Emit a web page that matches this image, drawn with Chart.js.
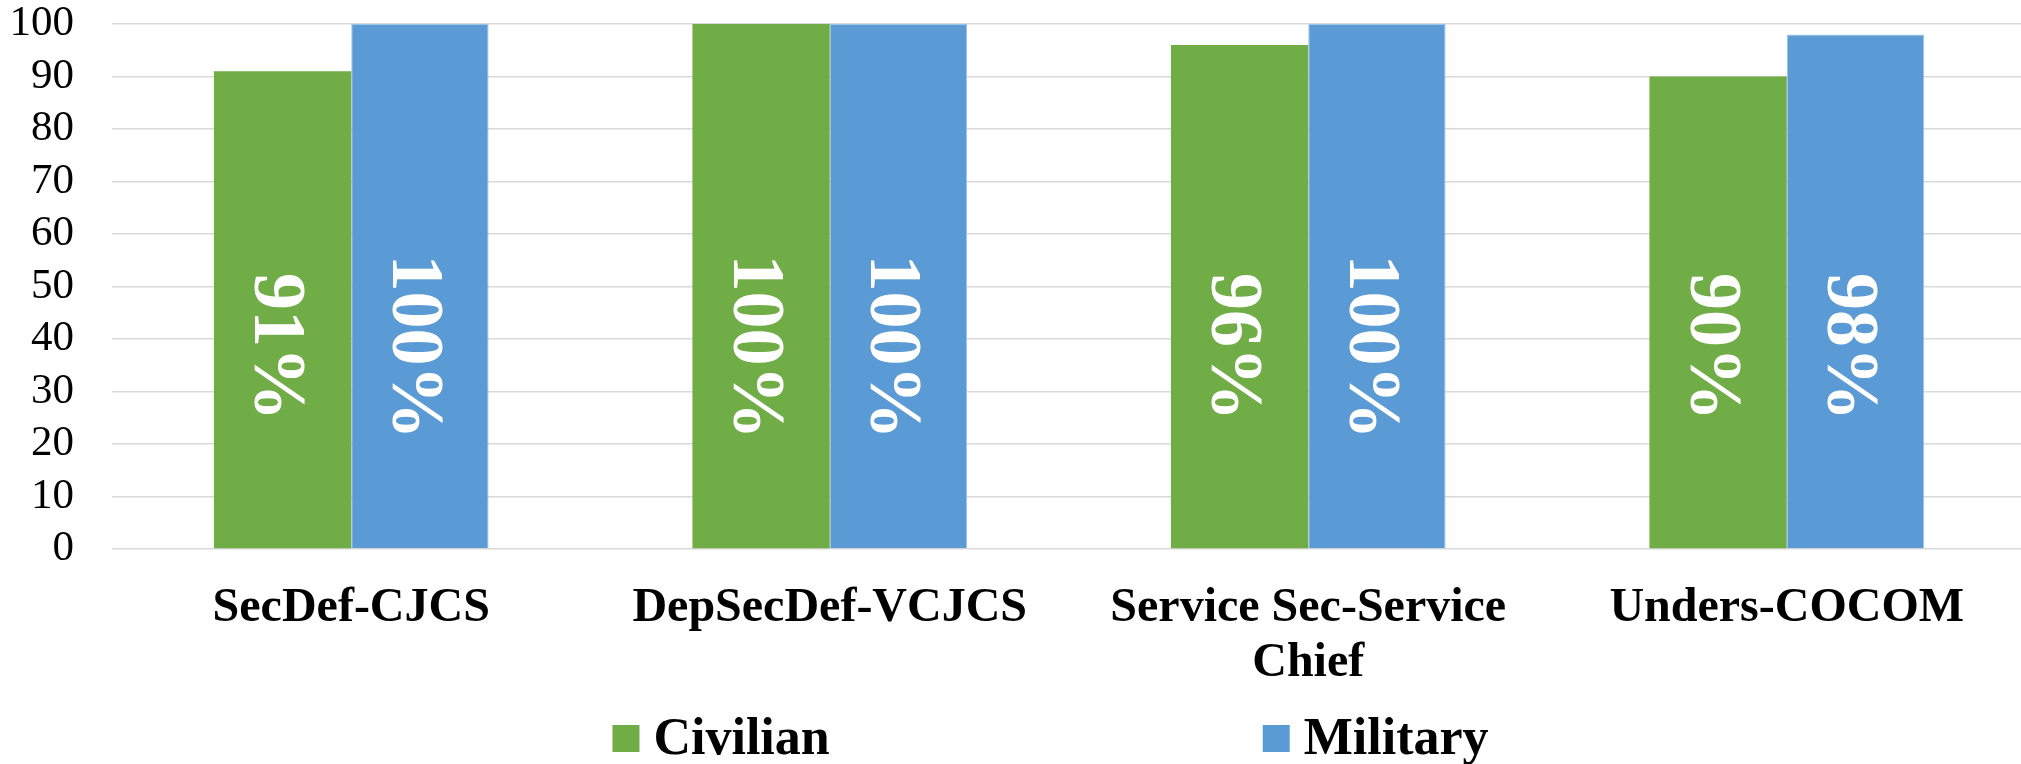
<!DOCTYPE html>
<html>
<head>
<meta charset="utf-8">
<script src="https://cdn.jsdelivr.net/npm/chart.js@4.4.1/dist/chart.umd.min.js"></script>
<style>
  html, body { margin: 0; padding: 0; background: #ffffff; overflow: hidden; }
  #wrap { position: relative; width: 2026px; height: 764px; }
</style>
</head>
<body>
<div id="wrap"><canvas id="chart"></canvas></div>
<script>
// ---- data ----
const categories = ['SecDef-CJCS', 'DepSecDef-VCJCS', ['Service Sec-Service', 'Chief'], 'Unders-COCOM'];
const seriesNames = ['Civilian', 'Military'];
const civilianValues = [91, 100, 96, 90];
const militaryValues = [100, 100, 100, 98];
const yTickValues = [0, 10, 20, 30, 40, 50, 60, 70, 80, 90, 100];

const SERIF = "'Liberation Serif', 'Times New Roman', serif";

// rotated value labels inside the bars
const barValueLabels = {
  id: 'barValueLabels',
  afterDatasetsDraw(chart, args, opts) {
    const ctx = chart.ctx;
    const yScale = chart.scales.y;
    ctx.save();
    ctx.font = opts.font;
    ctx.fillStyle = opts.color;
    ctx.textAlign = 'center';
    ctx.textBaseline = 'middle';
    chart.data.datasets.forEach((ds, di) => {
      const meta = chart.getDatasetMeta(di);
      meta.data.forEach((bar, i) => {
        const cy = yScale.getPixelForValue(opts.anchorValue);
        ctx.save();
        ctx.translate(bar.x + opts.offsetX, cy);
        ctx.rotate(Math.PI / 2);
        ctx.fillText(ds.data[i] + '%', 0, 0);
        ctx.restore();
      });
    });
    ctx.restore();
  }
};

// wide-spaced legend drawn below the axis labels from dataset labels/colours
const wideLegend = {
  id: 'wideLegend',
  afterDraw(chart, args, opts) {
    const ctx = chart.ctx;
    const ca = chart.chartArea;
    ctx.save();
    ctx.font = opts.font;
    ctx.textBaseline = 'alphabetic';
    ctx.textAlign = 'left';
    const items = chart.data.datasets.map(ds => ({
      text: ds.label, color: ds.backgroundColor, w: ctx.measureText(ds.label).width
    }));
    const widths = items.map(it => opts.box + opts.gap + it.w);
    const total = widths.reduce((a, b) => a + b, 0) + opts.spacing * (items.length - 1);
    let x = (ca.left + ca.right) / 2 - total / 2 + opts.offsetX;
    const yBox = chart.height - opts.bottom - opts.box;
    items.forEach((it, i) => {
      ctx.fillStyle = it.color;
      ctx.fillRect(x, yBox, opts.box, opts.box);
      ctx.fillStyle = opts.color;
      ctx.fillText(it.text, x + opts.box + opts.gap, yBox + opts.box + opts.baselineShift);
      x += widths[i] + opts.spacing;
    });
    ctx.restore();
  }
};

new Chart(document.getElementById('chart'), {
  type: 'bar',
  data: {
    labels: categories,
    datasets: [
      {
        label: seriesNames[0],
        data: civilianValues,
        backgroundColor: '#70AD47',
        borderWidth: 0
      },
      {
        label: seriesNames[1],
        data: militaryValues,
        backgroundColor: '#5B9BD5',
        borderColor: '#9DC3E6',
        borderWidth: { left: 1, right: 1, top: 1, bottom: 0 },
        borderSkipped: 'bottom'
      }
    ]
  },
  options: {
    responsive: true,
    maintainAspectRatio: false,
    animation: false,
    datasets: { bar: { barPercentage: 1.0, categoryPercentage: 0.574 } },
    layout: { padding: { left: 8, right: 0, top: 24, bottom: 73 } },
    scales: {
      x: {
        grid: { display: false, drawTicks: false },
        border: { display: false },
        afterFit: (s) => { s.paddingLeft = 0; s.paddingRight = 0; s.height = 142; },
        ticks: {
          color: '#000000',
          font: { family: SERIF, size: 48, weight: 'bold', lineHeight: 1.146 },
          padding: 32,
          maxRotation: 0,
          autoSkip: false
        }
      },
      y: {
        min: 0,
        max: 100,
        afterBuildTicks: (axis) => { axis.ticks = yTickValues.map(v => ({ value: v })); },
        afterFit: (s) => { s.paddingTop = 0; s.paddingBottom = 0; s.width = 104; },
        grid: { color: '#d9d9d9', lineWidth: 1.5, drawTicks: false },
        border: { display: false },
        ticks: {
          color: '#000000',
          font: { family: SERIF, size: 43, lineHeight: 1.0 },
          padding: 38,
          autoSkip: false
        }
      }
    },
    plugins: {
      legend: { display: false },
      tooltip: { enabled: false },
      barValueLabels: {
        font: "bold 74px " + SERIF,
        color: '#ffffff',
        anchorValue: 38.5,
        offsetX: -8
      },
      wideLegend: {
        font: "bold 52px " + SERIF,
        color: '#000000',
        box: 27,
        gap: 14,
        spacing: 433,
        bottom: 12,
        baselineShift: 2,
        offsetX: -18.5
      }
    }
  },
  plugins: [barValueLabels, wideLegend]
});
</script>
</body>
</html>
